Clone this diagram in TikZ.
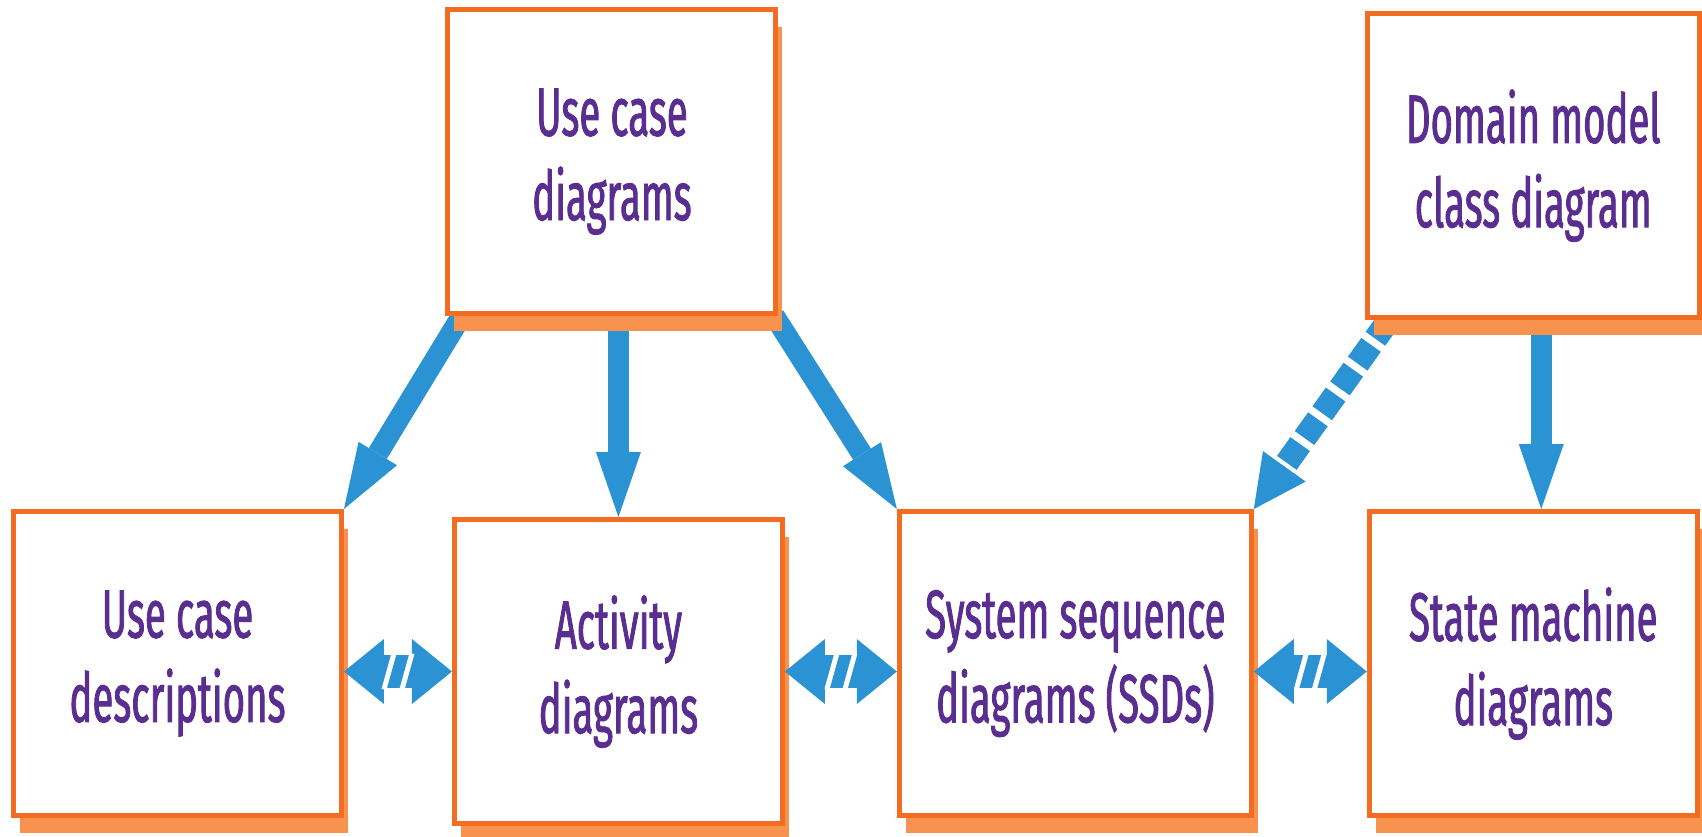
\documentclass[tikz,border=0pt]{standalone}
\usepackage{fontspec}
\usepackage{tikz}
\usetikzlibrary{arrows.meta,positioning,calc,shadows}
\newfontfamily\boxfont[FakeStretch=0.56, FakeBold=1.2]{Fira Sans}
\definecolor{ucorange}{HTML}{F26D21}
\definecolor{ucshadow}{HTML}{F7924F}
\definecolor{ucblue}{HTML}{2B93D3}
\definecolor{ucpurple}{HTML}{5A2D91}
\pgfdeclarelayer{back}
\pgfsetlayers{back,main}

\begin{document}
\begin{tikzpicture}[x=0.02cm, y=-0.02cm,
  box/.style={draw=ucorange, line width=0.1cm, fill=white, align=center,
    minimum width=6.56cm, minimum height=6.08cm, inner sep=0pt,
    text=ucpurple, font=\boxfont\fontsize{39}{48}\selectfont,
    drop shadow={shadow xshift=0.13cm, shadow yshift=-0.35cm, fill=ucshadow, opacity=1}},
  arr/.style={-{Triangle[length=1.3cm, width=0.9cm, line width=0pt]},
    line width=0.42cm, draw=ucblue},
  dasharr/.style={-{Triangle[length=1.05cm, width=1.05cm, line width=0pt]},
    line width=0.48cm, draw=ucblue, dash pattern=on 0.46cm off 0.15cm},
  dbl/.style={{Triangle[length=0.8cm, width=1.3cm, line width=0pt]}-{Triangle[length=0.8cm, width=1.3cm, line width=0pt]},
    line width=0.66cm, draw=ucblue},
  slash/.style={draw=white, line width=0.1cm}]
\useasboundingbox (0,0) rectangle (1702,836);
\node[box] (ucdesc) at (177.5,663.5) {Use case\\descriptions};
\node[box, right=2.16cm of ucdesc, yshift=-0.16cm] (act) {Activity\\diagrams};
\node[box, minimum width=7.04cm, right=2.24cm of act, yshift=0.16cm] (ssd) {System sequence\\diagrams (SSDs)};
\node[box, right=2.26cm of ssd] (state) {State machine\\diagrams};
\node[box, above=4.02cm of act, xshift=-0.13cm] (ucd) {Use case\\diagrams};
\node[box, minimum width=6.64cm, above=3.78cm of state] (dom) {Domain model\\class diagram};
% arrows go under the shadows
\begin{pgfonlayer}{back}
\draw[arr] ($(ucd.south west)+(16,0)$) -- (ucdesc.north east);
\draw[arr] (act |- ucd.south) -- (act);
\draw[arr] ($(ucd.south east)+(-4,0)$) -- (ssd.north west);
\draw[dasharr] ($(dom.south west)+(24,0)$) -- (ssd.north east);
\draw[arr] ($(dom.south)+(8,0)$) -- ($(state.north)+(8,0)$);
\end{pgfonlayer}
\foreach \a/\b in {ucdesc/act, act/ssd, ssd/state} {
  \draw[dbl] (\a.east |- act) -- (\b.west |- act);
  \coordinate (m) at ($(\a.east |- act)!0.5!(\b.west |- act)$);
  \draw[slash] ($(m)+(-14,18)$) -- ($(m)+(-4,-18)$);
  \draw[slash] ($(m)+(4,18)$) -- ($(m)+(14,-18)$);
}
\end{tikzpicture}
\end{document}
